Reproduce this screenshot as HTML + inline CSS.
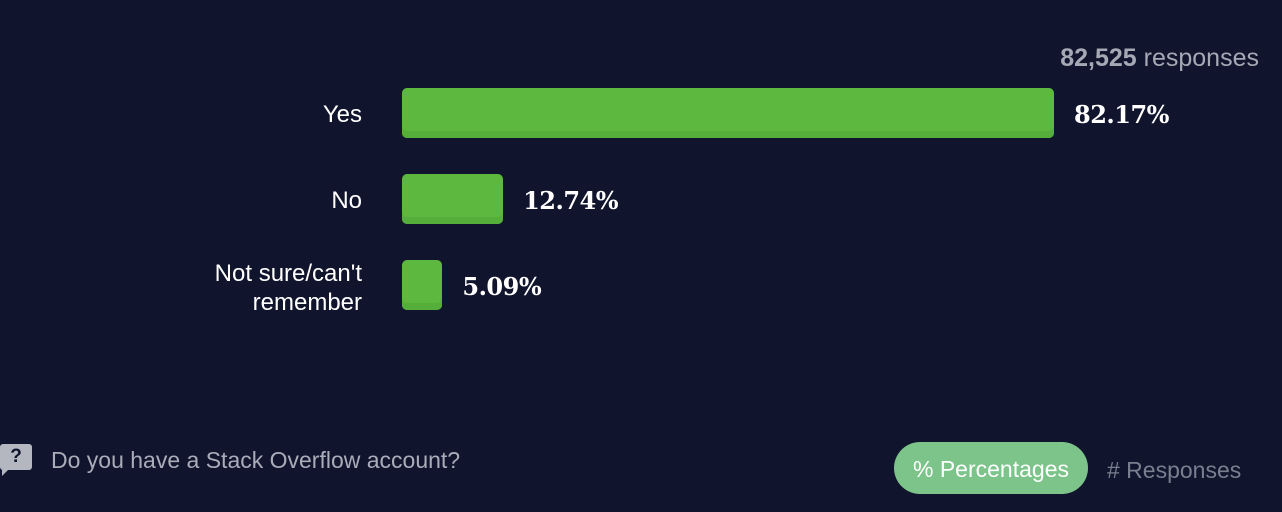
<!DOCTYPE html>
<html><head><meta charset="utf-8"><style>
body{margin:0;width:1282px;height:512px;background:#10142c;overflow:hidden;font-family:"Liberation Sans",sans-serif;position:relative}
.lbl{position:absolute;right:920px;color:#fff;font-size:24px;text-align:right;line-height:29px}
.bar{position:absolute;left:402px;height:50px;background:#5cb83e;border-radius:5px;box-shadow:inset 0 -7px 0 #55ad3a}
.val{position:absolute;color:#fff;font-family:"DejaVu Serif","Liberation Serif",serif;font-weight:bold;font-size:24px;letter-spacing:-0.5px}
</style></head><body>
<div style="position:absolute;right:23px;top:44px;font-size:25px;color:#a5a9b5"><b>82,525</b> responses</div>
<div id="chart"></div>
<div style="position:absolute;left:0;top:444px;width:32px;height:26px;background:#b4b7c0;border-radius:3px;color:#10142c;font-weight:bold;font-size:19px;text-align:center;line-height:26px">?</div>
<div style="position:absolute;left:2px;top:468px;width:0;height:0;border-left:8px solid #b4b7c0;border-bottom:8px solid transparent"></div>
<div style="position:absolute;left:51px;top:447px;font-size:23px;color:#a9adb9">Do you have a Stack Overflow account?</div>
<div style="position:absolute;left:894px;top:442px;width:194px;height:52px;border-radius:26px;background:#7cc48a;color:#fff;font-size:23px;text-align:center;line-height:54px">% Percentages</div>
<div style="position:absolute;left:1107px;top:457px;font-size:23px;color:#7a7f90"># Responses</div>
<script>
const categories=["Yes","No","Not sure/can't remember"];
const values=[82.17,12.74,5.09];
const c=document.getElementById('chart');
const x=v=>v*7.935;
categories.forEach((cat,i)=>{
  const top=88+i*86;
  const l=document.createElement('div');
  
  
  l.className='lbl';
  if(cat.length>10){l.innerHTML="Not sure/can't<br>remember";l.style.top=(top-1)+'px';}
  else{l.textContent=cat;l.style.top=(top+12)+'px';}
  c.appendChild(l);
  const b=document.createElement('div');
  
  
  b.className='bar';b.style.top=top+'px';b.style.width=x(values[i])+'px';
  c.appendChild(b);
  const v=document.createElement('div');
  
  
  v.className='val';v.textContent=values[i].toFixed(2)+'%';
  v.style.left=(402+x(values[i])+20)+'px';v.style.top=(top+12)+'px';
  c.appendChild(v);
});
</script>
</body></html>
